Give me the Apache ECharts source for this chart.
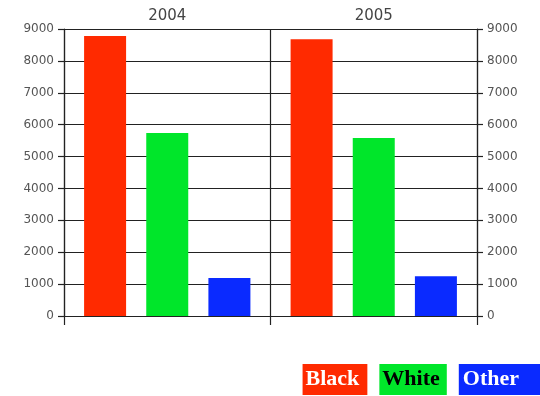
<!DOCTYPE html>
<html>
<head>
<meta charset="utf-8">
<script src="https://cdn.jsdelivr.net/npm/echarts@6/dist/echarts.min.js"></script>
<style>
  html, body { margin: 0; padding: 0; background: #fff; }
  #chart { width: 540px; height: 396px; }
</style>
</head>
<body>
<div id="chart"></div>
<script>
// 年份和各组数值
var years = ['2004', '2005'];
var black = [8780, 8680];
var white = [5740, 5580];
var other = [1190, 1250];
var yTicks = [0, 9000, 1000]; // min, max, interval

var chart = echarts.init(document.getElementById('chart'));

var yAxisBase = {
  type: 'value',
  min: yTicks[0],
  max: yTicks[1],
  interval: yTicks[2],
  axisLine: { show: true, lineStyle: { color: '#222', width: 1.2 } },
  axisTick: { show: true, length: 6, lineStyle: { color: '#222', width: 1.2 } },
  axisLabel: {
    color: '#555', fontSize: 12, fontFamily: 'DejaVu Sans', margin: 10,
    formatter: function (v) { return String(v); }
  }
};

var option = {
  animation: false,
  backgroundColor: '#fff',
  grid: { left: 64, right: 63, top: 29, bottom: 80 },
  legend: {
    right: 0,
    bottom: 1,
    padding: 0,
    icon: 'none',
    itemWidth: 0,
    itemHeight: 0,
    itemGap: 7,
    selectedMode: false,
    data: [
      { name: 'Black', textStyle: { color: '#fff', backgroundColor: '#ff2a00', padding: [5, 8, 4, 3] } },
      { name: 'White', textStyle: { color: '#000', backgroundColor: '#00e62a', padding: [5, 7, 4, 3] } },
      { name: 'Other', textStyle: { color: '#fff', backgroundColor: '#0a2aff', padding: [5, 21, 4, 4] } }
    ],
    textStyle: {
      fontFamily: 'Liberation Serif',
      fontWeight: 'bold',
      fontSize: 22
    }
  },
  xAxis: [{
    type: 'category',
    data: years,
    position: 'bottom',
    axisLine: { show: true, lineStyle: { color: '#222', width: 1.2 } },
    axisTick: { show: true, length: 9, lineStyle: { color: '#222', width: 1.2 } },
    axisLabel: { show: false },
    splitLine: { show: true, lineStyle: { color: '#222', width: 1.2 } }
  }, {
    type: 'category',
    data: years,
    position: 'top',
    axisLine: { show: true, lineStyle: { color: '#222', width: 1.2 } },
    axisTick: { show: false },
    axisLabel: { color: '#444', fontSize: 15, fontFamily: 'DejaVu Sans', margin: 5 }
  }],
  yAxis: [
    Object.assign({}, yAxisBase, {
      position: 'left',
      splitLine: { show: true, lineStyle: { color: '#222', width: 1.2 } }
    }),
    Object.assign({}, yAxisBase, {
      position: 'right',
      splitLine: { show: false }
    })
  ],
  series: [
    { name: 'Black', type: 'bar', data: black, barWidth: 42, barGap: '48%', itemStyle: { color: '#ff2a00' } },
    { name: 'White', type: 'bar', data: white, barWidth: 42, barGap: '48%', itemStyle: { color: '#00e62a' } },
    { name: 'Other', type: 'bar', data: other, barWidth: 42, barGap: '48%', itemStyle: { color: '#0a2aff' } }
  ]
};

chart.setOption(option);
</script>
</body>
</html>
